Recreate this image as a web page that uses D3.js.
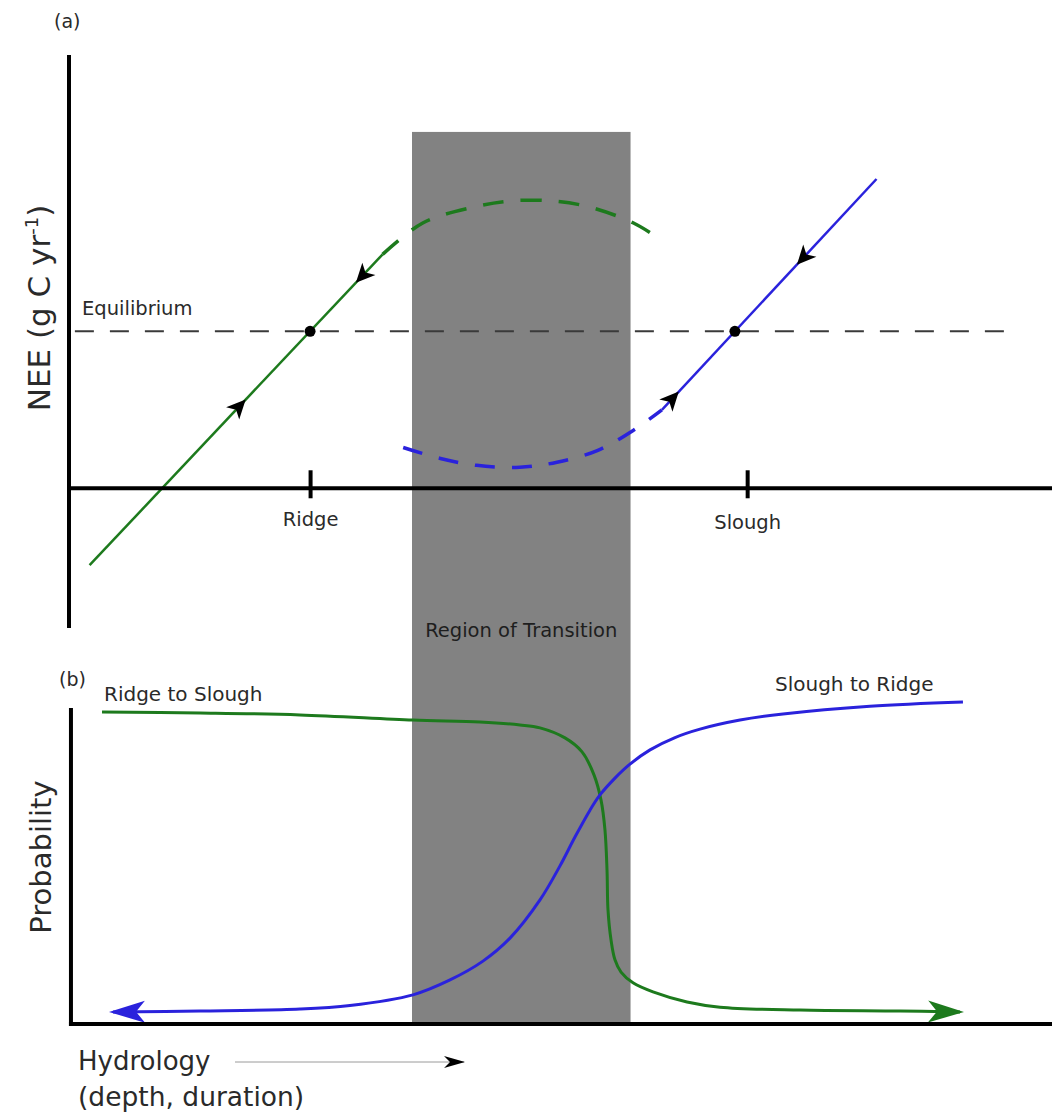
<!DOCTYPE html>
<html>
<head>
<meta charset="utf-8">
<script src="https://cdn.jsdelivr.net/npm/d3@7/dist/d3.min.js"></script>
<style>
  html, body { margin: 0; padding: 0; background: #ffffff; }
  svg { display: block; }
  text { font-family: "DejaVu Sans", Verdana, sans-serif; fill: #2a2a2a; }
</style>
</head>
<body>
<svg id="chart" width="1052" height="1116"></svg>
<script>
// ---------- Panel (a): NEE against hydrology ----------
const siteNames = ["Ridge", "Slough"];
const siteHydro = [24.6, 69.2];
const transitionZone = [35.0, 57.3];
const equilibriumNEE = 1;
const equilibriumSpan = [0.6, 96.5];

// stable branches (solid) and unstable return paths (dashed): [hydrology, NEE]
const ridgeSolid = [[2.1, -0.49], [32.0, 1.49]];
const ridgeDashed = [[32.0, 1.49], [36.1, 1.69], [41.2, 1.79], [45.0, 1.83], [49.4, 1.83], [53.2, 1.79], [57.6, 1.69], [60.0, 1.60]];
const sloughSolid = [[60.5, 0.50], [82.4, 1.97]];
const sloughDashed = [[34.1, 0.26], [37.9, 0.19], [41.6, 0.146], [46.0, 0.134], [49.8, 0.166], [53.9, 0.24], [57.6, 0.37], [60.5, 0.50]];

// direction markers along the solid branches (hydrology position, +1 = towards wetter)
const flowArrowAt = [17.4, 29.9, 61.6, 74.9];
const flowArrowDir = [1, -1, 1, -1];
const flowArrowBranch = ["ridge", "ridge", "slough", "slough"];

// ---------- Panel (b): transition probabilities ----------
const ridgeToSloughHydro = [3.37, 13.37, 23.57, 35.10, 41.94, 46.02, 48.06, 50.61, 52.35, 53.57, 54.29, 54.69, 54.90, 55.00, 55.31, 55.71, 56.33, 57.55, 59.59, 63.06, 66.43, 74.59, 84.80, 90.92];
const ridgeToSloughProb  = [0.963, 0.960, 0.954, 0.938, 0.932, 0.923, 0.914, 0.883, 0.840, 0.769, 0.691, 0.599, 0.475, 0.352, 0.259, 0.198, 0.160, 0.127, 0.099, 0.068, 0.052, 0.043, 0.040, 0.037];
const sloughToRidgeHydro = [4.49, 13.37, 23.57, 28.67, 35.10, 38.88, 42.24, 45.00, 48.06, 50.10, 51.63, 53.16, 54.18, 55.71, 57.24, 59.29, 61.84, 64.39, 68.47, 72.86, 81.73, 91.22];
const sloughToRidgeProb  = [0.037, 0.040, 0.046, 0.057, 0.090, 0.136, 0.194, 0.265, 0.383, 0.488, 0.577, 0.660, 0.707, 0.759, 0.802, 0.846, 0.884, 0.910, 0.938, 0.957, 0.981, 0.994];

const GREEN = "#1d7a1d";
const BLUE = "#2a22dc";
const W = 1052, H = 1116;

const svg = d3.select("#chart");
svg.append("rect").attr("width", W).attr("height", H).attr("fill", "#fff");

// shared hydrology scale
const x = d3.scaleLinear().domain([0, 100]).range([69, 1049]);
// NEE scale (panel a) and probability scale (panel b)
const yA = d3.scaleLinear().domain([-0.89, 2.76]).range([628, 55]);
const yB = d3.scaleLinear().domain([0, 1]).range([1024, 700]);

// markers
const defs = svg.append("defs");
function bigHead(id, color) {
  defs.append("marker")
    .attr("id", id)
    .attr("viewBox", "-36 -12 40 24")
    .attr("refX", -2).attr("refY", 0)
    .attr("markerWidth", 40).attr("markerHeight", 24)
    .attr("markerUnits", "userSpaceOnUse")
    .attr("orient", "auto-start-reverse")
    .append("path")
    .attr("d", "M2,0 L-34,-11 L-25,0 L-34,11 Z")
    .attr("fill", color);
}
bigHead("headGreen", GREEN);
bigHead("headBlue", BLUE);
defs.append("marker")
  .attr("id", "headBlack")
  .attr("viewBox", "-22 -8 24 16")
  .attr("refX", 0).attr("refY", 0)
  .attr("markerWidth", 24).attr("markerHeight", 16)
  .attr("markerUnits", "userSpaceOnUse")
  .attr("orient", "auto")
  .append("path")
  .attr("d", "M1,0 L-20,-6 L-14,0 L-20,6 Z")
  .attr("fill", "#000");

// transition region shading spanning both panels
svg.append("rect")
  .attr("x", x(transitionZone[0]))
  .attr("y", yA(2.27))
  .attr("width", x(transitionZone[1]) - x(transitionZone[0]))
  .attr("height", yB(0.006) - yA(2.27))
  .attr("fill", "#828282");

svg.append("text")
  .attr("x", (x(transitionZone[0]) + x(transitionZone[1])) / 2)
  .attr("y", 637)
  .attr("text-anchor", "middle")
  .attr("font-size", 19.5)
  .style("fill", "#1e1e1e")
  .text("Region of Transition");

// ===== Panel (a) =====
const gA = svg.append("g");

// equilibrium line
gA.append("line")
  .attr("x1", x(equilibriumSpan[0])).attr("x2", x(equilibriumSpan[1]))
  .attr("y1", yA(equilibriumNEE)).attr("y2", yA(equilibriumNEE))
  .attr("stroke", "#3a3a3a").attr("stroke-width", 2)
  .attr("stroke-dasharray", "19,16");
gA.append("text")
  .attr("x", 82).attr("y", 315)
  .attr("font-size", 19.5)
  .text("Equilibrium");

const lineA = d3.line().x(d => x(d[0])).y(d => yA(d[1]));
const arcA = d3.line().x(d => x(d[0])).y(d => yA(d[1])).curve(d3.curveCatmullRom.alpha(0.5));

gA.append("path").attr("d", arcA(ridgeDashed))
  .attr("fill", "none").attr("stroke", GREEN).attr("stroke-width", 3.5)
  .attr("stroke-dasharray", "21,17");
gA.append("path").attr("d", arcA(sloughDashed))
  .attr("fill", "none").attr("stroke", BLUE).attr("stroke-width", 3.5)
  .attr("stroke-dasharray", "20,17");
gA.append("path").attr("d", lineA(ridgeSolid))
  .attr("fill", "none").attr("stroke", GREEN).attr("stroke-width", 2.5);
gA.append("path").attr("d", lineA(sloughSolid))
  .attr("fill", "none").attr("stroke", BLUE).attr("stroke-width", 2.5);

// axes of panel (a)
gA.append("line")
  .attr("x1", x(0)).attr("x2", x(0))
  .attr("y1", yA.range()[0]).attr("y2", yA.range()[1])
  .attr("stroke", "#000").attr("stroke-width", 4);
gA.append("line")
  .attr("x1", x(0) - 2).attr("x2", W)
  .attr("y1", yA(0)).attr("y2", yA(0))
  .attr("stroke", "#000").attr("stroke-width", 4);

const siteAxis = d3.axisBottom(x)
  .tickValues(siteHydro)
  .tickFormat((d, i) => siteNames[i])
  .tickSize(10);
const axA = gA.append("g")
  .attr("transform", `translate(0,${yA(0)})`)
  .call(siteAxis);
axA.select(".domain").remove();
axA.selectAll(".tick line")
  .attr("y1", -18).attr("y2", 10)
  .attr("stroke", "#000").attr("stroke-width", 4);
axA.selectAll(".tick text")
  .attr("y", (d, i) => i === 0 ? 38 : 41).attr("dy", 0)
  .attr("font-family", "DejaVu Sans")
  .attr("font-size", 19.5)
  .style("fill", "#2a2a2a");

// helpers along a straight branch
function branchY(seg, hx) {
  const [[x0, y0], [x1, y1]] = seg;
  return y0 + (y1 - y0) * (hx - x0) / (x1 - x0);
}
function branchAngle(seg) {
  const [[x0, y0], [x1, y1]] = seg;
  return Math.atan2(yA(y1) - yA(y0), x(x1) - x(x0)) * 180 / Math.PI;
}
const branches = { ridge: ridgeSolid, slough: sloughSolid };

// equilibrium points: where each stable branch meets the equilibrium level
[ridgeSolid, sloughSolid].forEach(seg => {
  const [[x0, y0], [x1, y1]] = seg;
  const hx = x0 + (equilibriumNEE - y0) * (x1 - x0) / (y1 - y0);
  gA.append("circle")
    .attr("cx", x(hx)).attr("cy", yA(equilibriumNEE))
    .attr("r", 5.5).attr("fill", "#000");
});

// flow-direction chevrons
flowArrowAt.forEach((hx, i) => {
  const seg = branches[flowArrowBranch[i]];
  const ang = branchAngle(seg) + (flowArrowDir[i] < 0 ? 180 : 0);
  gA.append("path")
    .attr("d", "M9,0 L-10,-9 L-5,0 L-10,9 Z")
    .attr("fill", "#000")
    .attr("transform", `translate(${x(hx)},${yA(branchY(seg, hx))}) rotate(${ang})`);
});

gA.append("text").attr("x", 54).attr("y", 28).attr("font-size", 19).text("(a)");

const neeLabel = gA.append("text")
  .attr("transform", `translate(50,${308}) rotate(-90)`)
  .attr("text-anchor", "middle")
  .attr("font-size", 31);
neeLabel.append("tspan").text("NEE (g C yr");
neeLabel.append("tspan").attr("font-size", 18).attr("dy", -12).text("-1");
neeLabel.append("tspan").attr("dy", 12).text(")");

// ===== Panel (b) =====
const gB = svg.append("g");
const lineB = d3.line().x(d => x(d[0])).y(d => yB(d[1])).curve(d3.curveCatmullRom.alpha(0.5));

gB.append("path")
  .attr("d", lineB(ridgeToSloughHydro.map((h, i) => [h, ridgeToSloughProb[i]])))
  .attr("fill", "none").attr("stroke", GREEN).attr("stroke-width", 3)
  .attr("marker-end", "url(#headGreen)");
gB.append("path")
  .attr("d", lineB(sloughToRidgeHydro.map((h, i) => [h, sloughToRidgeProb[i]])))
  .attr("fill", "none").attr("stroke", BLUE).attr("stroke-width", 3)
  .attr("marker-start", "url(#headBlue)");

gB.append("line")
  .attr("x1", x(0.2)).attr("x2", x(0.2))
  .attr("y1", 708).attr("y2", yB(0) + 2)
  .attr("stroke", "#000").attr("stroke-width", 4);
gB.append("line")
  .attr("x1", x(0.2) - 2).attr("x2", W)
  .attr("y1", yB(0)).attr("y2", yB(0))
  .attr("stroke", "#000").attr("stroke-width", 4);

gB.append("text").attr("x", 59).attr("y", 686).attr("font-size", 19).text("(b)");
gB.append("text").attr("x", 104).attr("y", 701).attr("font-size", 20).text("Ridge to Slough");
gB.append("text").attr("x", 775).attr("y", 691).attr("font-size", 20).text("Slough to Ridge");

gB.append("text")
  .attr("transform", `translate(51,857) rotate(-90)`)
  .attr("text-anchor", "middle")
  .attr("font-size", 29)
  .text("Probability");

// hydrology gradient label
gB.append("text").attr("x", 78).attr("y", 1070).attr("font-size", 26).text("Hydrology");
gB.append("text").attr("x", 78).attr("y", 1106).attr("font-size", 26.5).text("(depth, duration)");
gB.append("line")
  .attr("x1", 235).attr("x2", 464)
  .attr("y1", 1062).attr("y2", 1062)
  .attr("stroke", "#9a9a9a").attr("stroke-width", 1)
  .attr("marker-end", "url(#headBlack)");
</script>
</body>
</html>
